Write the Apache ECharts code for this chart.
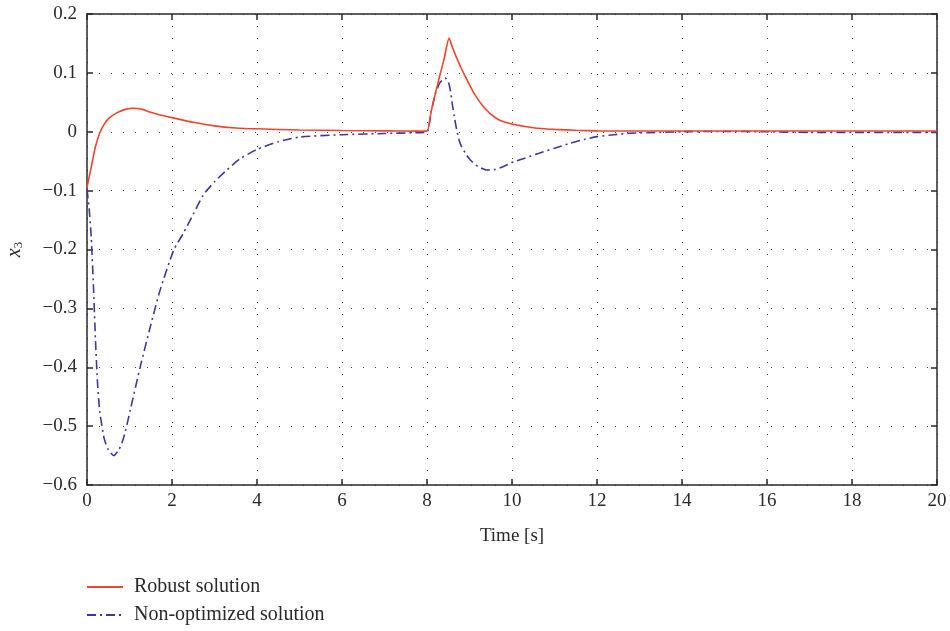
<!DOCTYPE html>
<html>
<head>
<meta charset="utf-8">
<script src="https://cdn.jsdelivr.net/npm/echarts@6/dist/echarts.min.js"></script>
<style>
  html, body { margin: 0; padding: 0; background: #fff; }
  #chart { width: 950px; height: 631px; }
</style>
</head>
<body>
<div id="chart"></div>
<script>
// State x3 over time for the two controllers
const robustTime = [0, 0.1, 0.2, 0.3, 0.4, 0.5, 0.7, 0.9, 1.1, 1.3, 1.5, 1.7, 2.0, 2.5, 3.0, 3.5, 4.0, 5.0, 6.0, 7.0, 7.8, 8.0,
  8.1, 8.2, 8.3, 8.4, 8.52, 8.6, 8.7, 8.8, 8.9, 9.0, 9.1, 9.2, 9.3, 9.4, 9.5, 9.7, 10.0, 10.3, 10.6, 11.0, 11.5, 12.0, 13.0, 14.0, 16.0, 18.0, 20.0];
const robustX3 = [-0.095, -0.06, -0.025, -0.002, 0.012, 0.022, 0.032, 0.038, 0.040, 0.038, 0.033, 0.029, 0.024, 0.016, 0.010, 0.0065, 0.005, 0.003, 0.002, 0.0015, 0.001, 0.001,
  0.035, 0.066, 0.095, 0.123, 0.159, 0.143, 0.125, 0.109, 0.094, 0.080, 0.066, 0.055, 0.045, 0.037, 0.030, 0.020, 0.013, 0.009, 0.006, 0.004, 0.0025, 0.0015, 0.0012, 0.0012, 0.0012, 0.0012, 0.0012];

const nonOptTime = [0, 0.05, 0.1, 0.15, 0.2, 0.25, 0.3, 0.4, 0.5, 0.63, 0.75, 0.82, 0.9, 1.02, 1.25, 1.49, 1.72, 2.04, 2.27, 2.5, 2.74, 3.0, 3.29, 3.6, 4.0, 4.5, 5.0, 6.0, 7.0, 7.8, 8.0,
  8.1, 8.2, 8.3, 8.43, 8.5, 8.55, 8.6, 8.65, 8.7, 8.78, 8.9, 9.02, 9.2, 9.41, 9.6, 9.8, 10.04, 10.3, 10.67, 11.0, 11.37, 11.7, 12.0, 12.4, 12.78, 13.5, 14.0, 15.0, 16.0, 17.0, 18.0, 20.0];
const nonOptX3 = [-0.098, -0.13, -0.18, -0.26, -0.355, -0.43, -0.475, -0.52, -0.54, -0.55, -0.54, -0.529, -0.51, -0.472, -0.40, -0.331, -0.269, -0.201, -0.172, -0.14, -0.107, -0.085, -0.065, -0.046, -0.030, -0.017, -0.009, -0.005, -0.003, -0.0015, -0.001,
  0.035, 0.065, 0.083, 0.091, 0.085, 0.07, 0.045, 0.022, 0.003, -0.02, -0.036, -0.048, -0.059, -0.065, -0.064, -0.059, -0.051, -0.045, -0.0355, -0.028, -0.0195, -0.013, -0.0083, -0.005, -0.0025, -0.001, 0, 0.0005, 0, -0.001, -0.001, -0.001];

const seriesNames = ['Robust solution', 'Non-optimized solution'];
const xTicks = [0, 2, 4, 6, 8, 10, 12, 14, 16, 18, 20];
const yTicks = [-0.6, -0.5, -0.4, -0.3, -0.2, -0.1, 0, 0.1, 0.2];

const serif = '"Liberation Serif", "DejaVu Serif", serif';
const ink = '#2a2a2a';
const red = '#f0452a';
const blue = '#3a3a9c';

const pairs = (xs, ys) => xs.map((x, i) => [x, ys[i]]);
const fmtNum = v => {
  const r = Math.round(v * 10) / 10;
  return (r < 0 ? '\u2212' : '') + String(Math.abs(r));
};

const gridDots = { show: true, lineStyle: { color: '#444', width: 1, type: [1, 11] } };
const frameLine = { show: true, onZero: false, lineStyle: { color: ink, width: 1.5 } };
const frameTick = { show: true, inside: true, length: 6, lineStyle: { color: ink, width: 1.5 } };

// one legend block per row, stacked under the plot; the line sample only, no marker
const legendRow = (name, top) => ({
  show: true,
  left: 86,
  top: top,
  padding: 0,
  itemWidth: 36,
  itemHeight: 14,
  itemStyle: { opacity: 0 },
  textStyle: { fontFamily: serif, fontSize: 20, color: ink, padding: [0, 0, 0, 6] },
  data: [name]
});

const chart = echarts.init(document.getElementById('chart'), null, { renderer: 'canvas' });
chart.setOption({
  animation: false,
  backgroundColor: '#fff',
  grid: { left: 87, right: 13, top: 14, bottom: 146, containLabel: false, outerBoundsMode: 'none' },
  legend: [legendRow(seriesNames[0], 577), legendRow(seriesNames[1], 605)],
  xAxis: [{
    type: 'value',
    min: xTicks[0], max: xTicks[xTicks.length - 1], interval: 2,
    name: 'Time [s]', nameLocation: 'middle', nameGap: 42,
    nameTextStyle: { fontFamily: serif, fontSize: 19, color: ink },
    axisLine: frameLine, axisTick: frameTick,
    axisLabel: { fontFamily: serif, fontSize: 19, color: ink, margin: 7, formatter: fmtNum },
    splitLine: gridDots
  }, {
    type: 'value', position: 'top',
    min: xTicks[0], max: xTicks[xTicks.length - 1], interval: 2,
    axisLine: frameLine, axisTick: frameTick,
    axisLabel: { show: false }, splitLine: { show: false }
  }],
  yAxis: [{
    type: 'value',
    min: yTicks[0], max: yTicks[yTicks.length - 1], interval: 0.1,
    name: '{i|x}{s|3}', nameLocation: 'middle', nameGap: 62, nameRotate: 90,
    nameTextStyle: {
      rich: {
        i: { fontFamily: serif, fontStyle: 'italic', fontSize: 20, color: ink },
        s: { fontFamily: serif, fontSize: 13, color: ink, verticalAlign: 'bottom', padding: [8, 0, 0, 0] }
      }
    },
    axisLine: frameLine, axisTick: frameTick,
    axisLabel: { fontFamily: serif, fontSize: 19, color: ink, margin: 10, formatter: fmtNum },
    splitLine: gridDots
  }, {
    type: 'value', position: 'right',
    min: yTicks[0], max: yTicks[yTicks.length - 1], interval: 0.1,
    axisLine: frameLine, axisTick: frameTick,
    axisLabel: { show: false }, splitLine: { show: false }
  }],
  series: [{
    name: seriesNames[0],
    type: 'line',
    data: pairs(robustTime, robustX3),
    smooth: 0.2,
    showSymbol: false, symbol: 'none',
    color: red,
    lineStyle: { color: red, width: 1.6 },
    z: 3
  }, {
    name: seriesNames[1],
    type: 'line',
    data: pairs(nonOptTime, nonOptX3),
    smooth: 0.2,
    showSymbol: false, symbol: 'none',
    color: blue,
    lineStyle: { color: blue, width: 1.6, type: [9, 4, 2, 4] },
    z: 2
  }]
});
</script>
</body>
</html>
